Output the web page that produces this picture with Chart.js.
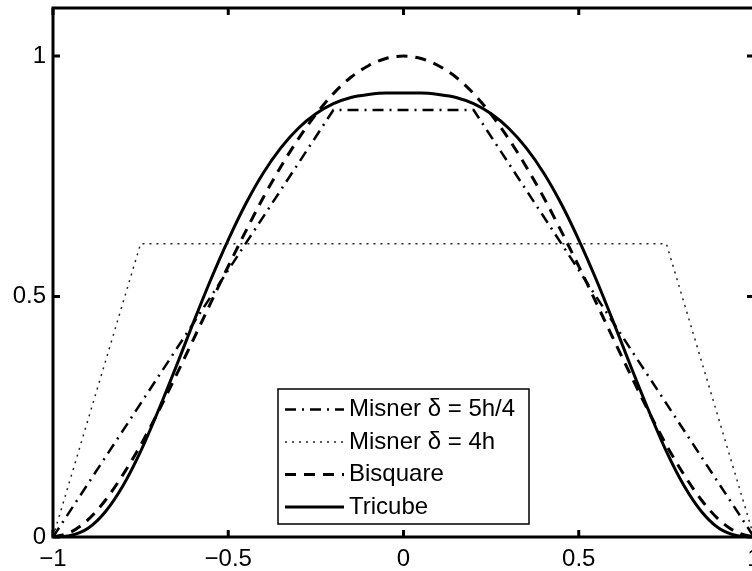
<!DOCTYPE html>
<html>
<head>
<meta charset="utf-8">
<script src="https://cdn.jsdelivr.net/npm/chart.js@4.4.1/dist/chart.umd.min.js"></script>
<style>
  html, body { margin: 0; padding: 0; background: #fff; overflow: hidden; }
  canvas { display: block; }
</style>
</head>
<body>
<canvas id="kernelChart" width="760" height="571"></canvas>
<script>
// x positions for the smooth kernels
const xGrid = [-1, -0.95, -0.9, -0.85, -0.8, -0.75, -0.7, -0.65, -0.6, -0.55, -0.5,
  -0.45, -0.4, -0.35, -0.3, -0.25, -0.2, -0.15, -0.1, -0.05, 0,
  0.05, 0.1, 0.15, 0.2, 0.25, 0.3, 0.35, 0.4, 0.45, 0.5,
  0.55, 0.6, 0.65, 0.7, 0.75, 0.8, 0.85, 0.9, 0.95, 1];

const tricube = [0, 0.003, 0.018, 0.053, 0.107, 0.178, 0.262, 0.352, 0.445, 0.535, 0.618,
  0.693, 0.757, 0.809, 0.850, 0.880, 0.901, 0.914, 0.920, 0.923, 0.923,
  0.923, 0.920, 0.914, 0.901, 0.880, 0.850, 0.809, 0.757, 0.693, 0.618,
  0.535, 0.445, 0.352, 0.262, 0.178, 0.107, 0.053, 0.018, 0.003, 0];

const bisquare = [0, 0.010, 0.036, 0.077, 0.130, 0.191, 0.260, 0.334, 0.410, 0.487, 0.563,
  0.636, 0.706, 0.770, 0.828, 0.879, 0.922, 0.956, 0.980, 0.995, 1.0,
  0.995, 0.980, 0.956, 0.922, 0.879, 0.828, 0.770, 0.706, 0.636, 0.563,
  0.487, 0.410, 0.334, 0.260, 0.191, 0.130, 0.077, 0.036, 0.010, 0];

// Misner tapers (piecewise linear)
const misner54X = [-1, -0.2, 0.2, 1];
const misner54Y = [0, 0.888, 0.888, 0];
const misner4X = [-1, -0.75, 0.75, 1];
const misner4Y = [0, 0.61, 0.61, 0];

const xTicks = [-1, -0.5, 0, 0.5, 1];
const xTickLabels = ['\u22121', '\u22120.5', '0', '0.5', '1'];
const yTicks = [0, 0.5, 1];
const yTickLabels = ['0', '0.5', '1'];

function toPoints(xs, ys) {
  return xs.map((x, i) => ({ x: x, y: ys[i] }));
}

const fontFamily = "'Liberation Sans', Arial, Helvetica, sans-serif";

// box round the axes with inward tick marks, tick labels and the legend
const framePlugin = {
  id: 'frame',
  afterDraw(chart) {
    const ctx = chart.ctx;
    const a = chart.chartArea;
    const xs = chart.scales.x;
    const ys = chart.scales.y;
    ctx.save();
    ctx.strokeStyle = '#000';
    ctx.lineWidth = 3;
    ctx.strokeRect(a.left, a.top, a.right - a.left, a.bottom - a.top);

    ctx.fillStyle = '#000';
    ctx.font = '24px ' + fontFamily;
    ctx.textBaseline = 'middle';

    ctx.textAlign = 'center';
    xTicks.forEach((v, i) => {
      const px = xs.getPixelForValue(v);
      ctx.beginPath();
      ctx.moveTo(px, a.bottom); ctx.lineTo(px, a.bottom - 7);
      ctx.moveTo(px, a.top); ctx.lineTo(px, a.top + 7);
      ctx.stroke();
      ctx.fillText(xTickLabels[i], px, a.bottom + 22);
    });
    ctx.textAlign = 'right';
    yTicks.forEach((v, i) => {
      const py = ys.getPixelForValue(v);
      ctx.beginPath();
      ctx.moveTo(a.left, py); ctx.lineTo(a.left + 7, py);
      ctx.moveTo(a.right, py); ctx.lineTo(a.right - 7, py);
      ctx.stroke();
      ctx.fillText(yTickLabels[i], a.left - 7, py);
    });

    // legend
    const box = { x: 278, y: 389, w: 251, h: 135 };
    ctx.fillStyle = '#fff';
    ctx.fillRect(box.x, box.y, box.w, box.h);
    ctx.lineWidth = 1.5;
    ctx.strokeStyle = '#000';
    ctx.strokeRect(box.x, box.y, box.w, box.h);

    const rows = [409.5, 442, 474.5, 507];
    chart.data.datasets.forEach((ds, i) => {
      const y = rows[i];
      ctx.save();
      ctx.strokeStyle = ds.borderColor;
      ctx.lineWidth = ds.borderWidth;
      ctx.setLineDash(ds.borderDash || []);
      ctx.beginPath();
      ctx.moveTo(285, y);
      ctx.lineTo(344, y);
      ctx.stroke();
      ctx.restore();
      ctx.fillStyle = '#000';
      ctx.textAlign = 'left';
      ctx.fillText(ds.label, 349, y);
    });
    ctx.restore();
  }
};

const ctx = document.getElementById('kernelChart').getContext('2d');
new Chart(ctx, {
  type: 'line',
  data: {
    datasets: [
      {
        label: 'Misner \u03b4 = 5h/4',
        data: toPoints(misner54X, misner54Y),
        borderColor: '#000',
        borderWidth: 2.5,
        borderDash: [11, 6, 2, 6],
        pointRadius: 0,
        fill: false
      },
      {
        label: 'Misner \u03b4 = 4h',
        data: toPoints(misner4X, misner4Y),
        borderColor: '#222',
        borderWidth: 1.5,
        borderDash: [2, 5],
        pointRadius: 0,
        fill: false
      },
      {
        label: 'Bisquare',
        data: toPoints(xGrid, bisquare),
        borderColor: '#000',
        borderWidth: 3,
        borderDash: [11, 8],
        pointRadius: 0,
        cubicInterpolationMode: 'monotone',
        fill: false
      },
      {
        label: 'Tricube',
        data: toPoints(xGrid, tricube),
        borderColor: '#000',
        borderWidth: 3,
        pointRadius: 0,
        cubicInterpolationMode: 'monotone',
        fill: false
      }
    ]
  },
  options: {
    responsive: false,
    animation: false,
    layout: { autoPadding: false, padding: { top: 8, right: 6, left: 0, bottom: 0 } },
    plugins: { legend: { display: false }, tooltip: { enabled: false } },
    scales: {
      x: {
        type: 'linear',
        min: -1,
        max: 1,
        grid: { display: false, drawTicks: false },
        border: { display: false },
        ticks: { display: false },
        afterFit(scale) { scale.height = 34; }
      },
      y: {
        type: 'linear',
        min: 0,
        max: 1.1,
        grid: { display: false, drawTicks: false },
        border: { display: false },
        ticks: { display: false },
        afterFit(scale) { scale.width = 53; }
      }
    }
  },
  plugins: [framePlugin]
});
</script>
</body>
</html>
